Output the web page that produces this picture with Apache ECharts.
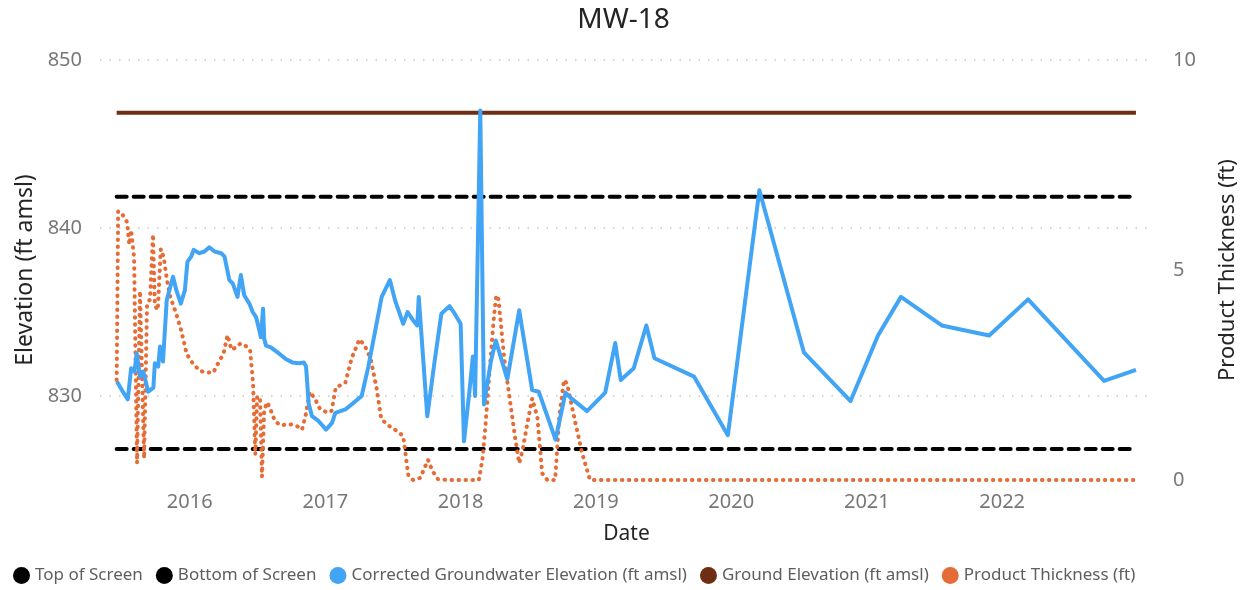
<!DOCTYPE html>
<html>
<head>
<meta charset="utf-8">
<script src="https://cdn.jsdelivr.net/npm/echarts@6/dist/echarts.min.js"></script>
<style>
  html, body { margin: 0; padding: 0; background: #ffffff; }
  #chart { width: 1247px; height: 590px; }
</style>
</head>
<body>
<div id="chart"></div>
<script>
// ---------- data ----------
const gwDates = ['2015-06-19','2015-07-02','2015-07-18','2015-07-27','2015-08-05','2015-08-11','2015-08-20','2015-08-29','2015-09-11','2015-09-25','2015-09-29','2015-10-08','2015-10-13','2015-10-21','2015-10-31','2015-11-17','2015-11-26','2015-12-08','2015-12-19','2015-12-26','2016-01-05','2016-01-12','2016-01-27','2016-02-10','2016-02-23','2016-03-08','2016-03-26','2016-04-04','2016-04-17','2016-04-26','2016-05-09','2016-05-18','2016-05-27','2016-06-10','2016-06-19','2016-06-28','2016-07-07','2016-07-11','2016-07-17','2016-07-20','2016-07-25','2016-08-07','2016-08-25','2016-09-16','2016-10-04','2016-10-22','2016-11-04','2016-11-10','2016-11-17','2016-11-26','2016-12-14','2017-01-03','2017-01-19','2017-01-28','2017-02-24','2017-03-13','2017-04-09','2017-04-27','2017-06-02','2017-06-24','2017-07-08','2017-07-30','2017-08-11','2017-08-26','2017-09-06','2017-09-10','2017-10-03','2017-10-23','2017-11-10','2017-12-02','2017-12-16','2018-01-01','2018-01-10','2018-01-25','2018-02-03','2018-02-09','2018-02-23','2018-03-05','2018-03-24','2018-04-06','2018-05-07','2018-06-08','2018-07-13','2018-07-31','2018-09-14','2018-10-11','2018-10-24','2018-12-08','2019-01-26','2019-02-22','2019-03-09','2019-04-13','2019-05-17','2019-06-08','2019-09-23','2019-12-23','2020-03-17','2020-07-15','2020-11-18','2021-01-31','2021-04-03','2021-07-22','2021-11-27','2022-03-12','2022-10-03','2022-12-28'];
const gwElevation = [830.85,830.35,829.8,831.65,831.45,832.55,831.15,831.45,830.25,830.5,831.95,831.75,832.95,832.05,835.7,837.1,836.3,835.5,836.3,838.0,838.3,838.7,838.5,838.6,838.85,838.6,838.5,838.3,836.9,836.7,835.9,837.2,836.0,835.5,835.0,834.7,833.9,833.5,835.2,833.4,833.0,832.9,832.6,832.2,832.0,831.95,832.0,831.75,829.55,828.8,828.5,828.0,828.4,829.0,829.2,829.5,830.0,831.75,835.9,836.9,835.7,834.3,835.0,834.5,834.2,835.9,828.8,832.1,834.9,835.35,834.9,834.3,827.3,830.35,832.35,830.0,847.0,829.5,832.1,833.3,831.0,835.1,830.35,830.25,827.4,830.2,829.9,829.1,830.2,833.15,830.95,831.65,834.2,832.25,831.15,827.67,842.25,832.6,829.7,833.6,835.9,834.2,833.6,835.75,830.9,831.55];

const ptDates = ['2015-06-18','2015-06-22','2015-07-03','2015-07-16','2015-07-22','2015-07-27','2015-08-04','2015-08-12','2015-08-20','2015-08-31','2015-09-08','2015-09-16','2015-09-24','2015-09-29','2015-10-07','2015-10-15','2015-10-23','2015-10-31','2015-11-08','2015-11-24','2015-12-08','2015-12-24','2016-01-09','2016-01-28','2016-02-15','2016-03-05','2016-03-19','2016-04-01','2016-04-12','2016-04-23','2016-05-03','2016-05-17','2016-05-30','2016-06-12','2016-06-20','2016-06-26','2016-07-01','2016-07-09','2016-07-14','2016-07-20','2016-07-28','2016-08-05','2016-08-18','2016-09-03','2016-09-25','2016-10-14','2016-10-30','2016-11-09','2016-11-20','2016-12-03','2016-12-17','2017-01-07','2017-01-18','2017-01-29','2017-02-24','2017-03-13','2017-04-03','2017-04-17','2017-05-03','2017-05-19','2017-06-01','2017-06-20','2017-07-09','2017-07-30','2017-08-13','2017-08-26','2017-09-14','2017-10-05','2017-10-18','2017-11-01','2017-11-28','2017-12-24','2018-01-20','2018-02-19','2018-03-01','2018-03-09','2018-03-20','2018-03-31','2018-04-07','2018-04-13','2018-04-21','2018-04-29','2018-05-15','2018-05-29','2018-06-08','2018-06-17','2018-06-30','2018-07-13','2018-07-27','2018-08-09','2018-08-23','2018-09-13','2018-09-24','2018-10-07','2018-10-15','2018-11-03','2018-11-25','2018-12-16','2019-01-26','2019-02-22','2019-03-09','2019-04-13','2019-05-17','2019-06-08','2019-09-23','2019-12-23','2020-03-17','2020-07-15','2020-11-18','2021-01-31','2021-04-03','2021-07-22','2021-11-27','2022-03-12','2022-10-03','2022-12-28'];
const ptThickness = [2.38,6.40,6.33,6.14,5.6,5.95,5.3,0.4,4.5,0.52,4.2,4.3,5.85,4.15,4.05,5.5,5.3,4.8,4.4,4.0,3.6,3.0,2.78,2.6,2.56,2.56,2.8,3.0,3.45,3.1,3.15,3.25,3.2,3.1,2.3,0.6,2.0,1.9,0.08,1.67,1.85,1.7,1.4,1.3,1.33,1.3,1.2,1.55,2.1,1.95,1.7,1.6,1.65,2.2,2.32,2.9,3.35,3.2,2.9,2.2,1.45,1.3,1.19,1.05,0.1,0,0.05,0.48,0.2,0.02,0,0,0,0,0.5,1.3,2.6,3.8,4.4,4.3,3.6,2.86,1.83,0.95,0.4,0.71,1.35,1.94,1.5,0.16,0,0,1.51,2.38,2.3,1.51,0.63,0,0,0,0,0,0,0,0,0,0,0,0,0,0,0,0,0,0,0];

const refDates = ['2015-06-18','2022-12-28'];
const groundElevation = [846.86, 846.86];
const topOfScreen = [841.86, 841.86];
const bottomOfScreen = [826.84, 826.84];

const xRange = ['2015-05-04', '2023-02-12'];
const yearLabels = ['2016','2017','2018','2019','2020','2021','2022'];
const elevGridValues = [830, 840, 850];

const seriesNames = ['Top of Screen','Bottom of Screen','Corrected Groundwater Elevation (ft amsl)','Ground Elevation (ft amsl)','Product Thickness (ft)'];

// ---------- chart ----------
const FONT = 'Noto Sans';
const ts = s => { const p = s.split('-').map(Number); return new Date(p[0], p[1] - 1, p[2]).getTime(); };
const pair = (d, v) => d.map((x, i) => [ts(x), v[i]]);
const chart = echarts.init(document.getElementById('chart'), null, { renderer: 'canvas' });

const option = {
  backgroundColor: '#ffffff',
  animation: false,
  textStyle: { fontFamily: FONT },
  title: {
    text: 'MW-18', left: 'center', top: 1,
    textStyle: { fontFamily: FONT, fontSize: 28, fontWeight: 'normal', color: '#252423' }
  },
  legend: {
    left: 8, top: 562, icon: 'circle', itemWidth: 17, itemHeight: 17, itemGap: 13,
    textStyle: { fontFamily: FONT, fontSize: 17, color: '#605E5C' },
    data: seriesNames
  },
  grid: { left: 100, right: 87, top: 60, bottom: 110 },
  xAxis: {
    type: 'value',
    min: ts(xRange[0]), max: ts(xRange[1]),
    name: 'Date', nameLocation: 'middle', nameGap: 44,
    nameTextStyle: { fontFamily: FONT, fontSize: 21, color: '#252423' },
    axisLine: { show: false }, axisTick: { show: false }, splitLine: { show: false },
    axisLabel: {
      customValues: yearLabels.map(y => ts(y + '-01-01')),
      formatter: v => String(new Date(v).getFullYear()),
      fontFamily: FONT, fontSize: 20, color: '#777777', margin: 12
    }
  },
  yAxis: [
    {
      type: 'value', min: 825, max: 850, interval: 5,
      name: 'Elevation (ft amsl)', nameLocation: 'middle', nameGap: 58, nameRotate: 90,
      nameTextStyle: { fontFamily: FONT, fontSize: 23, color: '#252423' },
      axisLine: { show: false }, axisTick: { show: false }, splitLine: { show: false },
      axisLabel: {
        formatter: v => (v % 10 === 0 ? String(v) : ''),
        fontFamily: FONT, fontSize: 20, color: '#777777', margin: 18
      }
    },
    {
      type: 'value', min: 0, max: 10, interval: 5, position: 'right',
      name: 'Product Thickness (ft)', nameLocation: 'middle', nameGap: 64, nameRotate: 90,
      nameTextStyle: { fontFamily: FONT, fontSize: 22, color: '#252423' },
      axisLine: { show: false }, axisTick: { show: false }, splitLine: { show: false },
      axisLabel: { fontFamily: FONT, fontSize: 20, color: '#777777', margin: 20 }
    }
  ],
  series: [
    {
      name: seriesNames[0], type: 'line', yAxisIndex: 0, showSymbol: false, z: 3,
      data: pair(refDates, topOfScreen),
      itemStyle: { color: '#000000' },
      lineStyle: { color: '#000000', width: 4, type: [10, 7], cap: 'round' },
      markLine: {
        silent: true, symbol: 'none', z: 1,
        label: { show: false },
        lineStyle: { color: '#c8c8c8', width: 1.5, type: [1.5, 8] },
        data: elevGridValues.map(v => ({ yAxis: v }))
      }
    },
    {
      name: seriesNames[1], type: 'line', yAxisIndex: 0, showSymbol: false, z: 3,
      data: pair(refDates, bottomOfScreen),
      itemStyle: { color: '#000000' },
      lineStyle: { color: '#000000', width: 4, type: [10, 7], cap: 'round' }
    },
    {
      name: seriesNames[2], type: 'line', yAxisIndex: 0, showSymbol: false, z: 5,
      data: pair(gwDates, gwElevation),
      itemStyle: { color: '#41A4F5' },
      lineStyle: { color: '#41A4F5', width: 4, join: 'round' }
    },
    {
      name: seriesNames[3], type: 'line', yAxisIndex: 0, showSymbol: false, z: 3,
      data: pair(refDates, groundElevation),
      itemStyle: { color: '#6E2E14' },
      lineStyle: { color: '#6E2E14', width: 4 }
    },
    {
      name: seriesNames[4], type: 'line', yAxisIndex: 1, showSymbol: false, z: 4,
      data: pair(ptDates, ptThickness),
      itemStyle: { color: '#E66C37' },
      lineStyle: { color: '#E66C37', width: 4, type: [0.5, 6.5], cap: 'round' }
    }
  ]
};
chart.setOption(option);
</script>
</body>
</html>
